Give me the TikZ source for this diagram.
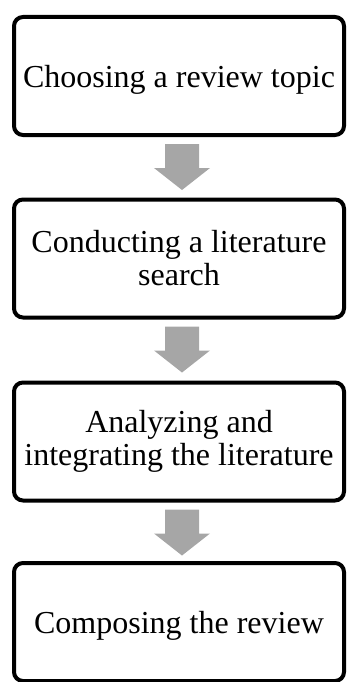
\documentclass[tikz,border=0pt]{standalone}
\usepackage{fontspec}
\setmainfont{Liberation Serif}
\usetikzlibrary{calc}
\definecolor{arrowgray}{HTML}{A6A6A6}
\begin{document}
\begin{tikzpicture}[x=1pt,y=-1pt,
  stepbox/.style={draw=black, line width=4pt, rounded corners=9pt,
    minimum width=330pt, minimum height=118pt, align=center,
    font=\fontsize{32}{33}\selectfont, inner sep=0pt},
  oneline/.style={text depth=0pt},
  flowarrow/.style={fill=arrowgray, draw=none}]
\useasboundingbox (0,0) rectangle (346,682);
\node[stepbox,oneline] (b1) at (179,76) {Choosing a review topic};
\node[stepbox] (b2) at (179,258.5) {Conducting a literature\\search};
\node[stepbox] (b3) at (179,441.5) {Analyzing and\\integrating the literature};
\node[stepbox,oneline] (b4) at (179,622) {Composing the review};
\foreach \a/\b in {b1/b2,b2/b3,b3/b4}{
  \coordinate (s\a) at ($(\a.south)+(3,7)$);
  \fill[flowarrow] (s\a) ++(-17,0) -- ++(34,0) -- ++(0,24) -- ++(11,0)
    -- ++(-28,22) -- ++(-28,-22) -- ++(11,0) -- cycle;
}
\end{tikzpicture}
\end{document}
